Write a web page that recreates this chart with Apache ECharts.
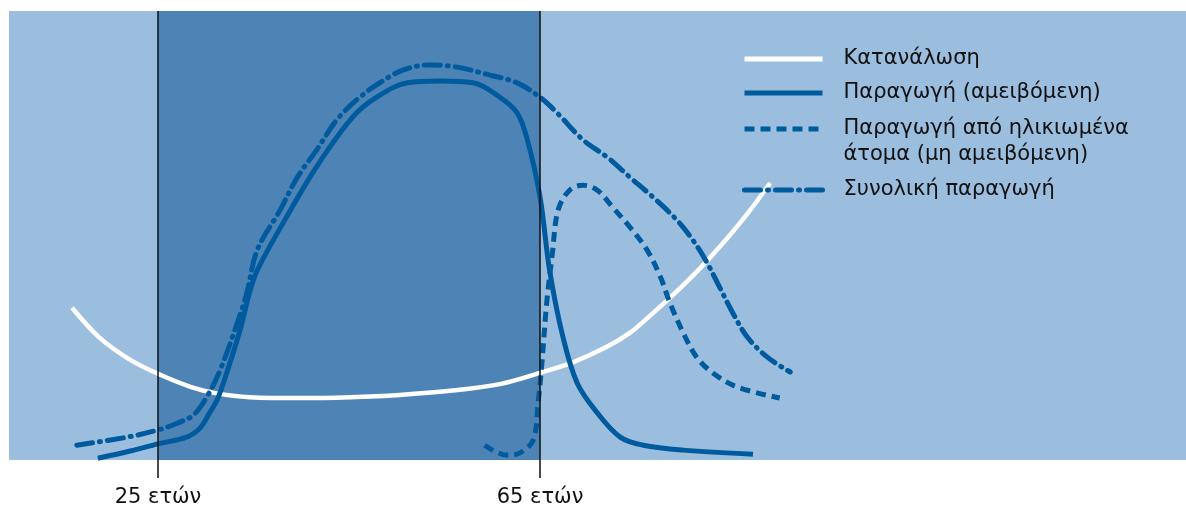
<!DOCTYPE html>
<html>
<head>
<meta charset="utf-8">
<script src="https://cdn.jsdelivr.net/npm/echarts@6/dist/echarts.min.js"></script>
<style>html,body{margin:0;padding:0;background:#fff}#c{width:1186px;height:509px}</style>
</head>
<body>
<div id="c"></div>
<script>
// Age (years) on x, arbitrary units on y
const seriesNames = ['Κατανάλωση', 'Παραγωγή (αμειβόμενη)', 'Παραγωγή από ηλικιωμένα\nάτομα (μη αμειβόμενη)', 'Συνολική παραγωγή'];
const markerAges = [25, 65];
const markerLabelSuffix = ' ετών';

const consumption = [[16.0,33.9],[18.9,27.2],[22.1,22.3],[25.0,19.2],[28.4,16.3],[31.0,14.9],[34.6,14.0],[39.9,13.8],[45.1,14.0],[50.3,14.5],[55.6,15.4],[60.8,16.9],[65.0,19.4],[68.5,21.8],[72.0,25.2],[74.4,28.3],[76.5,32.1],[78.9,36.7],[81.8,42.8],[84.6,49.4],[86.7,54.8],[89.1,61.7]];

const paidProduction = [[18.7,0.4],[22.1,2.0],[25.0,3.6],[28.0,5.1],[29.4,7.1],[30.4,10.5],[31.2,13.4],[32.2,19.4],[33.6,29.0],[34.6,37.4],[35.4,42.3],[38.1,52.8],[41.6,65.3],[45.4,76.4],[47.9,80.8],[51.1,84.0],[54.5,84.4],[58.0,84.0],[60.8,80.8],[62.6,77.3],[63.6,71.9],[65.0,58.6],[66.0,42.3],[67.4,27.4],[68.9,17.1],[71.0,10.5],[73.4,5.1],[75.8,3.3],[80.0,2.2],[87.3,1.3]];

const elderlyProduction = [[59.2,3.3],[61.5,1.1],[62.9,1.6],[64.3,4.5],[64.8,12.7],[65.2,21.6],[65.7,35.0],[66.3,46.1],[66.9,55.7],[68.1,60.1],[69.5,61.2],[71.0,60.1],[72.6,56.3],[74.4,51.9],[76.2,46.8],[77.6,40.8],[78.6,35.0],[80.0,28.3],[81.4,22.9],[83.1,19.4],[85.6,16.3],[90.1,13.8]];

const totalProduction = [[16.5,3.3],[21.8,5.1],[25.0,6.7],[27.0,8.2],[28.7,10.0],[30.1,14.0],[31.5,20.0],[33.3,30.5],[34.3,37.2],[35.4,46.8],[37.8,55.7],[39.6,63.0],[41.6,69.0],[43.7,75.7],[45.8,80.2],[48.2,84.0],[50.7,86.9],[53.5,88.0],[56.3,87.5],[59.8,85.7],[62.6,84.0],[65.0,80.8],[66.8,77.3],[69.5,71.3],[72.0,67.5],[74.4,63.0],[76.8,58.6],[79.3,53.5],[81.0,49.0],[82.5,43.9],[83.8,38.5],[85.2,32.7],[86.7,27.4],[88.8,22.9],[91.2,19.6]];

const BLUE = '#005A9E';
const FONT = 'DejaVu Sans, Liberation Sans, Arial, sans-serif';
const chart = echarts.init(document.getElementById('c'), null, {renderer: 'canvas'});

function legendAt(name, top, twoLine) {
  return {
    data: [name],
    left: 742, top: top, orient: 'vertical', padding: 0,
    itemWidth: 78, itemHeight: 8,
    selectedMode: false,
    formatter: twoLine ? (n => '\n' + n) : undefined,
    itemStyle: {opacity: 0},
    lineStyle: {width: 5},
    textStyle: {fontFamily: FONT, fontSize: 21, color: '#111', lineHeight: 26, padding: [0, 0, 0, 16]}
  };
}

const option = {
  animation: false,
  grid: {left: 9, right: 0, top: 11, bottom: 49, show: true, backgroundColor: '#9BBDDE', borderWidth: 0},
  xAxis: {
    type: 'value', min: 9.4, max: 132.64,
    axisLine: {show: false},
    splitLine: {show: false},
    axisTick: {show: true, customValues: markerAges, length: 18, lineStyle: {color: '#111', width: 1.5}},
    axisLabel: {show: true, customValues: markerAges, formatter: v => v + markerLabelSuffix, margin: 27, fontSize: 21, color: '#111', fontFamily: FONT}
  },
  yAxis: {type: 'value', min: 0, max: 100, show: false},
  legend: [
    legendAt(seriesNames[0], 46),
    legendAt(seriesNames[1], 80),
    legendAt(seriesNames[2], 90, true),
    legendAt(seriesNames[3], 177)
  ],
  series: [
    {
      name: 'bands', type: 'line', data: [], z: 1, silent: true,
      markArea: {silent: true, itemStyle: {color: '#4E83B5'}, data: [[{xAxis: markerAges[0]}, {xAxis: markerAges[1]}]]},
      markLine: {silent: true, symbol: 'none', label: {show: false}, lineStyle: {color: '#111', width: 1.5, type: 'solid'}, data: markerAges.map(a => ({xAxis: a}))}
    },
    {name: seriesNames[0], type: 'line', data: consumption, smooth: 0.35, symbol: 'none', z: 3,
      lineStyle: {color: '#ffffff', width: 4.5}, itemStyle: {color: '#ffffff'}},
    {name: seriesNames[1], type: 'line', data: paidProduction, smooth: 0.35, symbol: 'none', z: 4,
      lineStyle: {color: BLUE, width: 5}, itemStyle: {color: BLUE}},
    {name: seriesNames[2], type: 'line', data: elderlyProduction, smooth: 0.35, symbol: 'none', z: 4,
      lineStyle: {color: BLUE, width: 5, type: [10, 6]}, itemStyle: {color: BLUE}},
    {name: seriesNames[3], type: 'line', data: totalProduction, smooth: 0.35, symbol: 'none', z: 4,
      lineStyle: {color: BLUE, width: 5, type: [16, 7, 1, 7], cap: 'round'}, itemStyle: {color: BLUE}}
  ]
};
chart.setOption(option);
</script>
</body>
</html>
